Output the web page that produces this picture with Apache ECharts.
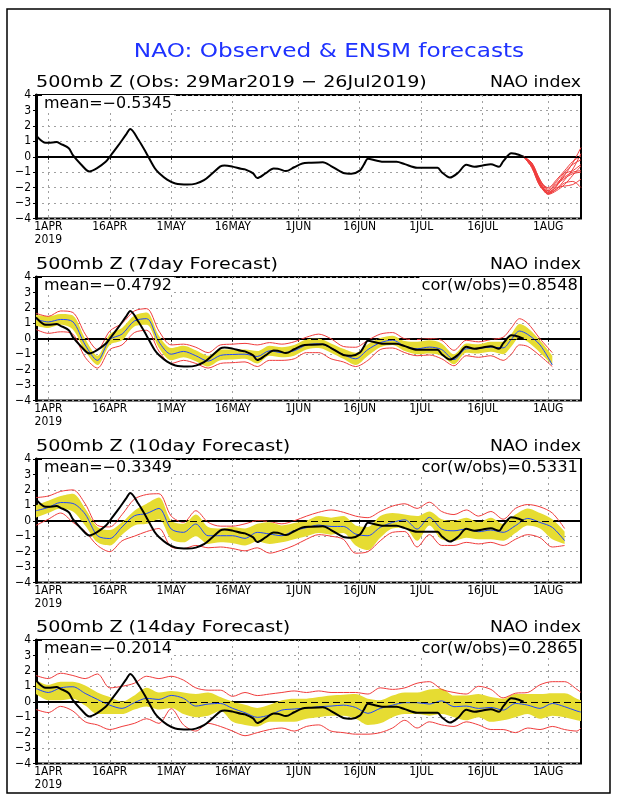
<!doctype html>
<html lang="en">
<head>
    <meta charset="UTF-8">
    <title>NAO: Observed & ENSM forecasts</title>
    <script src="https://cdn.jsdelivr.net/npm/echarts@6/dist/echarts.min.js"></script>
    <style>
        html, body { margin: 0; padding: 0; background: #fff; }
        #main { width: 618px; height: 800px; }
    </style>
</head>
<body>
<div id="main"></div>
<script type="text/javascript">
    // ---- data (day index: 0 = 29Mar2019) ----
    var tickDays = [3, 18, 33, 48, 64, 79, 94, 109, 125];
    var tickLabels = ['1APR', '16APR', '1MAY', '16MAY', '1JUN', '16JUN', '1JUL', '16JUL', '1AUG'];

    // observed NAO index
    var obsDays = [0, 2, 3, 5, 6, 8, 9, 11, 13, 15, 17, 18, 20, 22, 23, 25, 27, 29, 30, 32, 34, 37, 39, 41, 43, 45, 46, 48, 50, 51,
        53, 54, 56, 58, 59, 61, 63, 65, 67, 70, 72, 75, 77, 79, 80, 81, 83, 85, 88, 90, 93, 98, 99, 101, 103, 105, 107, 109, 111, 113,
        114, 116, 117, 119];
    var obsVals = [1.38, 0.92, 0.9, 0.95, 0.84, 0.55, 0.1, -0.5, -0.95, -0.72, -0.33, 0.0, 0.7, 1.45, 1.8, 1.1, 0.2, -0.75, -1.05, -1.48,
        -1.73, -1.8, -1.74, -1.52, -1.08, -0.62, -0.56, -0.64, -0.78, -0.82, -1.08, -1.38, -1.08, -0.76, -0.77, -0.93, -0.68, -0.44, -0.39, -0.35,
        -0.6, -1.05, -1.1, -0.9, -0.52, -0.13, -0.24, -0.33, -0.32, -0.48, -0.71, -0.72, -1.0, -1.35, -1.04, -0.52, -0.65, -0.56, -0.48, -0.65,
        -0.3, 0.22, 0.19, 0.0];

    // ensemble members after 26Jul (top panel)
    var memberDays = [119, 121, 123, 125, 127, 129, 131, 133];
    var ens01 = [0, -0.5, -1.6, -2.3, -1.9, -1.2, -0.4, 0.6];
    var ens02 = [0, -0.6, -1.7, -2.4, -2.1, -1.5, -0.8, 0.2];
    var ens03 = [0, -0.4, -1.5, -2.1, -1.6, -1.0, -0.5, -0.2];
    var ens04 = [0, -0.5, -1.8, -2.44, -2.2, -1.8, -1.2, -0.6];
    var ens05 = [0, -0.7, -1.9, -2.2, -1.7, -1.3, -1.0, -0.9];
    var ens06 = [0, -0.6, -1.6, -2.0, -1.5, -0.9, -0.3, 0.05];
    var ens07 = [0, -0.5, -1.7, -2.3, -2.0, -1.9, -1.8, -1.45];
    var ens08 = [0, -0.6, -1.8, -2.35, -2.1, -1.7, -1.6, -2.0];
    var ens09 = [0, -0.4, -1.5, -2.2, -1.8, -1.4, -1.1, -1.0];
    var ens10 = [0, -0.7, -1.9, -2.4, -1.9, -1.1, -0.9, -0.5];

    // 7day forecast
    var days7 = [0, 3, 6, 9, 12, 15, 18, 21, 24, 27, 30, 33, 36, 39, 42, 45, 48, 51, 54, 57, 60, 63, 66, 69, 72, 75, 78, 81, 84, 87,
        90, 93, 96, 99, 102, 105, 108, 111, 114, 116, 118, 120, 123, 126];
    var mean7 = [1.26, 1.09, 1.25, 1.1, -0.4, -1.4, -0.05, 0.3, 1.15, 1.3, -0.2, -1.0, -0.82, -1.1, -1.45, -1.08, -1.02, -1.0, -1.15, -0.78,
        -0.9, -0.78, -0.4, -0.33, -0.59, -1.02, -1.3, -0.7, -0.26, -0.09, -0.48, -0.65, -0.54, -0.7, -1.35, -0.65, -0.63, -0.54, -0.59, -0.04,
        0.5, 0.28, -0.4, -1.7];
    var hi7 = [1.55, 1.45, 1.6, 1.5, 0.0, -1.1, 0.3, 0.7, 1.5, 1.7, 0.2, -0.6, -0.45, -0.75, -1.1, -0.7, -0.7, -0.7, -0.8, -0.45,
        -0.55, -0.4, -0.05, 0.0, -0.3, -0.65, -0.9, -0.35, 0.05, 0.2, -0.15, -0.2, -0.1, -0.3, -1.0, -0.3, -0.35, -0.2, -0.2, 0.3,
        0.95, 0.7, -0.1, -1.1];
    var lo7 = [0.85, 0.7, 0.9, 0.6, -0.8, -1.7, -0.4, -0.1, 0.8, 0.9, -0.6, -1.4, -1.2, -1.45, -1.8, -1.4, -1.35, -1.3, -1.6, -1.1,
        -1.2, -1.1, -0.7, -0.6, -0.9, -1.3, -1.7, -1.1, -0.55, -0.4, -0.8, -1.0, -0.95, -1.1, -1.65, -0.9, -0.95, -0.85, -1.0, -0.5,
        0.1, -0.2, -0.9, -1.7];
    var max7 = [1.65, 1.45, 1.8, 1.7, 0.3, -0.7, 0.5, 1.0, 1.8, 1.95, 0.5, -0.4, -0.35, -0.55, -0.9, -0.4, -0.35, -0.3, -0.4, -0.25,
        -0.35, -0.2, 0.1, 0.3, 0.0, -0.5, -0.55, -0.1, 0.3, 0.4, 0.0, -0.05, 0.0, -0.1, -0.75, -0.1, -0.2, -0.05, 0.1, 0.7,
        1.3, 1.0, 0.0, -0.9];
    var min7 = [0.6, 0.35, 0.45, 0.3, -1.2, -1.9, -0.7, -0.4, 0.4, 0.55, -0.8, -1.6, -1.4, -1.6, -1.9, -1.6, -1.55, -1.5, -1.8, -1.4,
        -1.4, -1.3, -0.9, -0.9, -1.3, -1.5, -1.8, -1.4, -0.7, -0.6, -0.9, -1.1, -1.05, -1.3, -1.75, -1.1, -1.2, -1.1, -1.4, -1.0,
        -0.4, -0.5, -1.1, -1.8];

    // 10day forecast
    var days10 = [0, 3, 6, 9, 12, 15, 18, 21, 24, 27, 30, 33, 36, 39, 42, 45, 48, 51, 54, 57, 60, 63, 66, 69, 72, 75, 78, 81, 84, 87,
        90, 93, 96, 99, 102, 105, 108, 111, 114, 117, 120, 123, 126, 129];
    var mean10 = [0.65, 0.86, 1.18, 1.12, 0.43, -0.97, -1.15, -0.4, 0.32, 0.47, 0.8, -0.54, -0.75, -0.21, -0.97, -0.97, -0.97, -1.14, -0.75, -0.86,
        -0.97, -0.64, -0.45, -0.28, -0.37, -0.37, -0.86, -0.97, -0.43, -0.11, 0.06, -0.54, 0.22, -0.54, -0.65, -0.54, -0.71, -0.6, -0.75, -0.32,
        0.15, -0.11, -0.43, -1.29];
    var hi10 = [1.0, 1.3, 1.6, 1.75, 0.8, -0.4, -0.6, -0.1, 0.65, 1.1, 1.5, 0.0, -0.2, 0.4, -0.4, -0.5, -0.4, -0.5, -0.2, -0.1,
        -0.3, -0.15, 0.0, 0.3, 0.2, 0.3, -0.3, -0.4, 0.3, 0.5, 0.4, 0.3, 0.6, 0.1, 0.0, 0.2, -0.1, 0.2, -0.2, 0.4,
        0.8, 0.5, 0.1, -0.7];
    var lo10 = [0.2, 0.5, 0.8, 0.6, -0.3, -1.4, -1.6, -0.9, -0.3, -0.2, 0.1, -1.2, -1.4, -1.0, -1.5, -1.4, -1.45, -1.6, -1.35, -1.5,
        -1.4, -1.2, -1.0, -0.8, -0.9, -0.8, -1.6, -1.9, -1.1, -0.5, -0.45, -1.3, -0.3, -1.2, -1.3, -1.1, -1.2, -1.2, -1.3, -0.8,
        -0.3, -0.5, -1.2, -1.5];
    var max10 = [1.5, 1.6, 1.9, 2.0, 1.1, -0.3, -0.4, 0.4, 1.4, 1.7, 1.75, 0.3, -0.1, 0.65, -0.1, -0.35, -0.35, -0.2, 0.0, -0.05,
        -0.2, 0.0, 0.3, 0.55, 0.7, 0.55, 0.3, 0.2, 0.6, 0.95, 1.1, 0.8, 1.2, 0.6, 0.4, 0.7, 0.3, 0.6, 0.1, 0.8,
        1.05, 0.9, 0.5, -0.5];
    var min10 = [-0.3, 0.1, 0.5, -0.1, -0.7, -1.6, -2.0, -1.3, -1.0, -0.7, -0.5, -1.7, -1.8, -1.6, -1.75, -1.7, -1.8, -1.95, -1.75, -2.1,
        -1.9, -1.6, -1.2, -0.9, -1.0, -1.2, -2.1, -2.0, -1.3, -0.75, -0.7, -1.7, -0.9, -1.6, -1.6, -1.4, -1.5, -1.4, -1.6, -1.2,
        -0.9, -1.1, -1.7, -1.6];

    // 14day forecast
    var days14 = [0, 3, 6, 9, 12, 15, 18, 21, 24, 27, 30, 33, 36, 39, 42, 45, 48, 51, 54, 57, 60, 63, 66, 69, 72, 75, 78, 81, 84, 87,
        90, 93, 96, 99, 102, 105, 108, 111, 114, 117, 120, 123, 126, 129, 132, 133];
    var mean14 = [0.86, 0.6, 0.9, 0.97, 0.54, 0.15, -0.22, -0.43, -0.06, 0.22, 0.15, 0.41, 0.22, -0.28, -0.15, -0.11, -0.43, -0.71, -1.01, -0.86,
        -0.54, -0.47, -0.41, -0.32, -0.28, -0.22, -0.37, -0.75, -0.43, -0.22, -0.06, -0.06, -0.15, 0.06, -0.32, -0.28, -0.43, -0.37, -0.54, -0.11,
        -0.22, -0.43, -0.11, -0.32, -0.6, -0.67];
    var hi14 = [1.4, 1.1, 1.3, 1.3, 1.05, 0.6, 0.3, 0.0, 0.4, 0.9, 0.6, 0.7, 0.6, 0.5, 0.6, 0.3, 0.0, -0.2, -0.4, -0.2,
        0.1, 0.2, 0.2, 0.3, 0.4, 0.45, 0.5, 0.2, 0.1, 0.4, 0.6, 0.6, 0.8, 0.85, 0.4, 0.4, 0.5, 0.3, 0.2, 0.5,
        0.5, 0.5, 0.55, 0.55, 0.2, 0.1];
    var lo14 = [0.5, 0.1, 0.1, 0.2, -0.25, -0.8, -0.8, -0.8, -0.5, -0.3, -0.5, -0.4, -0.8, -1.0, -0.9, -0.6, -1.3, -1.5, -1.6, -1.3,
        -1.3, -1.3, -1.1, -1.0, -0.9, -0.9, -1.1, -1.5, -1.4, -1.0, -0.8, -0.8, -0.9, -0.8, -1.0, -1.2, -1.0, -1.3, -1.2, -1.0,
        -0.8, -1.1, -0.9, -1.0, -1.2, -1.25];
    var max14 = [1.7, 1.5, 1.85, 1.7, 1.5, 1.8, 0.9, 1.0, 1.2, 1.65, 1.5, 1.65, 1.4, 0.9, 0.75, 0.75, 0.35, 0.6, 0.4, 0.5,
        0.6, 0.7, 0.6, 0.7, 0.6, 0.6, 0.6, 0.5, 0.9, 0.8, 0.9, 1.2, 1.3, 0.8, 0.6, 0.5, 1.0, 0.8, 0.25, 0.55,
        0.6, 1.1, 1.3, 1.3, 0.8, 0.6];
    var min14 = [-0.5, -0.7, -0.3, -0.6, -1.3, -1.5, -1.8, -1.6, -1.4, -1.1, -1.4, -0.45, -1.5, -1.9, -1.4, -1.6, -1.9, -2.2, -2.0, -1.8,
        -1.7, -1.9, -1.6, -1.5, -1.9, -2.0, -2.1, -2.1, -2.0, -1.7, -1.2, -1.7, -1.3, -1.5, -1.6, -1.3, -1.5, -1.8, -1.8, -2.0,
        -1.7, -1.8, -1.6, -1.8, -1.9, -1.7];

    var panelTitles = ['500mb Z (Obs: 29Mar2019 \u2212 26Jul2019)', '500mb Z (7day Forecast)',
        '500mb Z (10day Forecast)', '500mb Z (14day Forecast)'];
    var meanLabels = ['mean=\u22120.5345', 'mean=\u22120.4792', 'mean=\u22120.3349', 'mean=\u22120.2014'];
    var corLabels = ['', 'cor(w/obs)=0.8548', 'cor(w/obs)=0.5331', 'cor(w/obs)=0.2865'];

    // ---- layout / style ----
    var panelTops = [95, 277, 459, 640];
    var gridLeft = 36, gridWidth = 545, gridHeight = 123.5;
    var RED = '#f03c3c', BLUE = '#1e46ff', YELLOW = '#e6dc32', GRID = '#a0a0a0';
    var FONT = '"DejaVu Sans", "Liberation Sans", sans-serif';
    var NARROW = '"Liberation Sans Narrow", "DejaVu Sans Condensed", "Liberation Sans", sans-serif';

    var dayCats = [];
    for (var d = 0; d <= 133; d++) dayCats.push(String(d));

    function isTick(index) {
        return tickDays.indexOf(index) >= 0;
    }
    function pairs(days, vals) {
        return days.map(function (x, k) { return [x, vals[k]]; });
    }
    function line(i, data, color, width, z) {
        return {
            type: 'line', xAxisIndex: i, yAxisIndex: i, data: data,
            symbol: 'none', showSymbol: false, smooth: 0.3, silent: true,
            lineStyle: { color: color, width: width }, z: z
        };
    }
    function text(x, y, str, size, align, scaleX, color, bg) {
        var st = {
            text: str, font: size + 'px ' + FONT, fill: color || '#000',
            align: align, textAlign: align, verticalAlign: 'middle', textVerticalAlign: 'middle'
        };
        if (bg) { st.backgroundColor = '#fff'; st.padding = [1, 2]; }
        return { type: 'text', x: x, y: y, scaleX: scaleX, z: 100, silent: true, style: st };
    }

    var option = {
        animation: false,
        backgroundColor: '#fff',
        grid: [], xAxis: [], yAxis: [], series: [],
        graphic: [
            { type: 'rect', z: 100, silent: true, shape: { x: 7, y: 9, width: 603, height: 784 },
              style: { fill: 'none', stroke: '#000', lineWidth: 1.5 } },
            text(329, 52, 'NAO: Observed & ENSM forecasts', 20, 'center', 1.16, '#1e32ff', false)
        ]
    };

    panelTops.forEach(function (top, i) {
        option.grid.push({
            left: gridLeft, top: top, width: gridWidth, height: gridHeight,
            show: true, borderColor: '#000', borderWidth: 2, outerBoundsMode: 'none'
        });
        option.xAxis.push({
            type: 'category', gridIndex: i, data: dayCats, boundaryGap: false,
            axisLine: { lineStyle: { color: '#000', width: 2 } },
            axisTick: { interval: isTick, length: 3, lineStyle: { color: '#000', width: 1 } },
            axisLabel: {
                interval: isTick, margin: 2, color: '#000', fontSize: 12, fontFamily: NARROW, lineHeight: 13,
                formatter: function (value, index) {
                    var k = tickDays.indexOf(Number(value));
                    if (k < 0) return '';
                    return k === 0 ? tickLabels[k] + '\n2019' : tickLabels[k];
                }
            },
            splitLine: { show: true, interval: isTick, lineStyle: { color: GRID, width: 1, type: [2, 4] } }
        });
        option.yAxis.push({
            type: 'value', gridIndex: i, min: -4, max: 4, interval: 1,
            axisLine: { show: true, lineStyle: { color: '#000', width: 3 } },
            axisTick: { show: true, length: 3, lineStyle: { color: '#000', width: 1 } },
            axisLabel: {
                margin: 5, color: '#000', fontSize: 12, fontFamily: NARROW,
                formatter: function (v) { return String(v).replace('-', '\u2212'); }
            },
            splitLine: { show: true, lineStyle: { color: GRID, width: 1, type: [2, 4] } }
        });

        option.graphic.push(text(36, top - 12, panelTitles[i], 16.5, 'left', 1.16));
        option.graphic.push(text(581, top - 12, 'NAO index', 16.5, 'right', 1.05));
        option.graphic.push(text(42, top + 9, meanLabels[i], 15.5, 'left', 1.03, '#000', true));
        if (corLabels[i]) {
            option.graphic.push(text(580, top + 9, corLabels[i], 15.5, 'right', 1.05, '#000', true));
        }
    });

    // top panel: observed + ensemble members
    [ens01, ens02, ens03, ens04, ens05, ens06, ens07, ens08, ens09, ens10].forEach(function (m) {
        option.series.push(line(0, pairs(memberDays, m), RED, 1, 3));
    });

    // forecast panels: spread band, min/max, ensemble mean
    var fc = [
        { days: days7, mean: mean7, hi: hi7, lo: lo7, mx: max7, mn: min7 },
        { days: days10, mean: mean10, hi: hi10, lo: lo10, mx: max10, mn: min10 },
        { days: days14, mean: mean14, hi: hi14, lo: lo14, mx: max14, mn: min14 }
    ];
    fc.forEach(function (f, k) {
        var i = k + 1;
        var lower = line(i, pairs(f.days, f.lo), YELLOW, 0, 1);
        lower.stack = 'band' + i;
        lower.stackStrategy = 'all';
        lower.lineStyle.opacity = 0;
        var width = line(i, f.days.map(function (x, j) { return [x, f.hi[j] - f.lo[j]]; }), YELLOW, 0, 1);
        width.stack = 'band' + i;
        width.stackStrategy = 'all';
        width.lineStyle.opacity = 0;
        width.areaStyle = { color: YELLOW, opacity: 1 };
        option.series.push(lower, width);
        option.series.push(line(i, pairs(f.days, f.mx), RED, 1, 3));
        option.series.push(line(i, pairs(f.days, f.mn), RED, 1, 3));
        option.series.push(line(i, pairs(f.days, f.mean), BLUE, 1, 4));
    });

    // observed line + zero line on every panel
    panelTops.forEach(function (top, i) {
        var s = line(i, pairs(obsDays, obsVals), '#000', 2, 5);
        s.markLine = {
            silent: true, symbol: ['none', 'none'], label: { show: false },
            lineStyle: { color: '#000', width: 1, type: [7, 4] },
            data: [{ yAxis: 0 }]
        };
        option.series.push(s);
    });

    var myChart = echarts.init(document.getElementById('main'));
    myChart.setOption(option);
</script>
</body>
</html>
